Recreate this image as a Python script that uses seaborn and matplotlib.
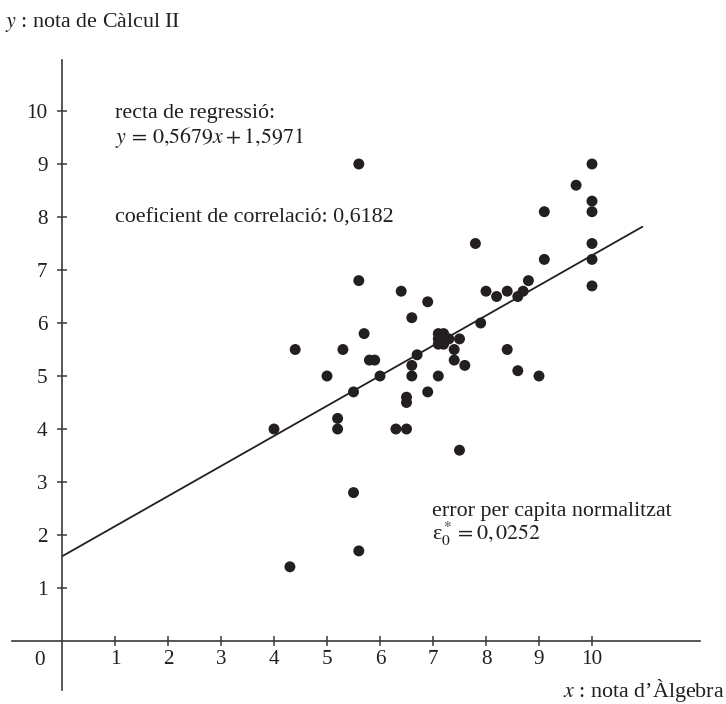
import numpy as np
import pandas as pd
import seaborn as sns
import matplotlib.pyplot as plt

# notes
algebra = [4.0, 4.3, 4.4, 5.0, 5.2, 5.2, 5.3, 5.5, 5.5, 5.6, 5.6, 5.6, 5.7, 5.8, 5.9,
           6.0, 6.3, 6.4, 6.5, 6.5, 6.5, 6.6, 6.6, 6.6, 6.7, 6.9, 6.9, 7.1,
           7.1, 7.2, 7.1, 7.2, 7.2, 7.3, 7.1,
           7.4, 7.4, 7.5, 7.5, 7.6, 7.8, 7.9, 8.0, 8.2, 8.4, 8.4, 8.6, 8.6, 8.7, 8.8,
           9.0, 9.1, 9.1, 9.7, 10.0, 10.0, 10.0, 10.0, 10.0, 10.0]
calcul = [4.0, 1.4, 5.5, 5.0, 4.2, 4.0, 5.5, 4.7, 2.8, 9.0, 6.8, 1.7, 5.8, 5.3, 5.3,
          5.0, 4.0, 6.6, 4.6, 4.5, 4.0, 6.1, 5.2, 5.0, 5.4, 6.4, 4.7, 5.0,
          5.8, 5.8, 5.7, 5.7, 5.6, 5.7, 5.6,
          5.5, 5.3, 5.7, 3.6, 5.2, 7.5, 6.0, 6.6, 6.5, 6.6, 5.5, 6.5, 5.1, 6.6, 6.8,
          5.0, 8.1, 7.2, 8.6, 9.0, 8.3, 8.1, 7.5, 7.2, 6.7]

slope = 0.5679
intercept = 1.5971
line_x = [0.0, 10.95]

df = pd.DataFrame({'x': algebra, 'y': calcul})
reg = pd.DataFrame({'x': line_x})
reg['y'] = slope * reg['x'] + intercept

sns.set_style('white')
plt.rcParams['font.family'] = ['Liberation Serif', 'DejaVu Serif']
plt.rcParams['mathtext.fontset'] = 'stix'

fig = plt.figure(figsize=(7.26, 7.04), dpi=100)
ax = fig.add_axes([0, 0, 1, 1])

sns.lineplot(data=reg, x='x', y='y', color='#231f20', linewidth=1.3, ax=ax)
sns.scatterplot(data=df, x='x', y='y', color='#231f20', s=62, edgecolor='none', ax=ax)

ax.set_xlim(-62 / 53, 664 / 53)
ax.set_ylim(-63 / 53, 641 / 53)

for side in ['top', 'right']:
    ax.spines[side].set_visible(False)
ax.spines['bottom'].set_position(('data', 0))
ax.spines['left'].set_position(('data', 0))
ax.spines['bottom'].set_bounds(-0.94, 12.04)
ax.spines['left'].set_bounds(-0.92, 10.96)
for side in ['bottom', 'left']:
    ax.spines[side].set_color('#3a3a3a')
    ax.spines[side].set_linewidth(1.2)

fs = 15.8
tfs = 15.2
tc = '#231f20'

ax.set_xticks(range(1, 11))
ax.set_yticks(range(1, 11))
ax.tick_params(axis='both', bottom=True, left=True, direction='inout', length=7,
               width=1.1, color='#3a3a3a', labelsize=tfs, labelcolor=tc)
ax.tick_params(axis='x', pad=3)
ax.tick_params(axis='y', pad=7)
ax.set_xlabel('')
ax.set_ylabel('')
ax.annotate('0', xy=(0, 0), xytext=(-16, -14), textcoords='offset points',
            ha='center', va='center', fontsize=tfs, color=tc)

ax.text(1.0, 9.87, 'recta de regressió:', fontsize=fs, color=tc)
ax.text(1.0, 9.40, r'$y\,=\,0{,}5679x + 1{,}5971$', fontsize=fs, color=tc)
ax.text(1.0, 7.9, 'coeficient de correlació: 0,6182', fontsize=fs, color=tc)
ax.text(6.98, 2.36, 'error per capita normalitzat', fontsize=fs, color=tc)
ax.text(6.98, 1.9, r'ε$_0^* = 0,0252$', fontsize=fs, color=tc)
ax.text(-1.08, 11.58, r'$y$ : nota de Càlcul II', fontsize=fs, color=tc)
ax.text(12.5, -1.06, r'$x$ : nota d’Àlgebra', fontsize=fs, color=tc, ha='right')

fig.savefig('out.png', dpi=100)
